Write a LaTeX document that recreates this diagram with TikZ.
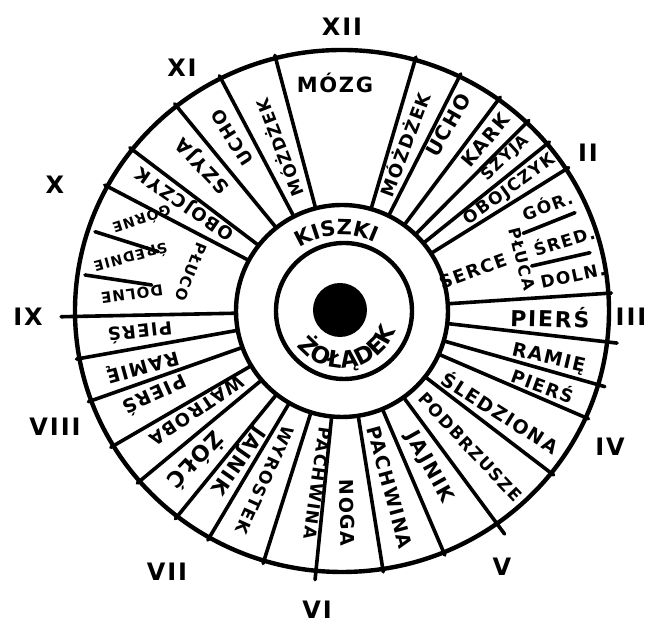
\documentclass[tikz,border=0pt]{standalone}
\usepackage{fontspec}
\setmainfont{DejaVu Sans}[LetterSpace=8]
\usetikzlibrary{decorations.text}
\newcommand\lblsize[1]{\bfseries\fontsize{#1}{#1}\selectfont}
\tikzset{
  rim/.style={line width=2.2pt},
  spoke/.style={line width=1.8pt, line cap=round},
  lbl/.style={inner sep=0pt},
  hour/.style={inner sep=0pt, font=\lblsize{12}},
}
\begin{document}
\begin{tikzpicture}[x=0.5pt,y=0.5pt]
\useasboundingbox (-342,-313) rectangle (308,311);
\draw[rim] (0,0) ellipse [x radius=267, y radius=261];
\draw[rim] (0,0) circle [radius=106];
\draw[rim] (2,0) circle [radius=68];
\fill (-2,1) circle [radius=27];
\draw[spoke] (74.1:106) -- (74.1:270 and 264);
\draw[spoke] (63.9:106) -- (63.9:270 and 264);
\draw[spoke] (54.1:106) -- (54.1:270 and 264);
\draw[spoke] (46.2:106) -- (46.2:270 and 264);
\draw[spoke] (39.8:106) -- (39.8:270 and 264);
\draw[spoke] (32.9:106) -- (32.9:270 and 264);
\draw[spoke] (3.9:106) -- (3.9:270 and 264);
\draw[spoke] (353.2:106) -- (353.2:277 and 271);
\draw[spoke] (343.6:106) -- (343.6:274 and 268);
\draw[spoke] (335.9:106) -- (335.9:270 and 264);
\draw[spoke] (321.6:106) -- (321.6:270 and 264);
\draw[spoke] (305.5:106) -- (305.5:280 and 274);
\draw[spoke] (292.4:106) -- (292.4:270 and 264);
\draw[spoke] (278.8:106) -- (278.8:270 and 264);
\draw[spoke] (264.4:106) -- (264.4:276 and 270);
\draw[spoke] (253.0:106) -- (253.0:270 and 264);
\draw[spoke] (240.2:106) -- (240.2:270 and 264);
\draw[spoke] (231.9:106) -- (231.9:270 and 264);
\draw[spoke] (220.7:106) -- (220.7:270 and 264);
\draw[spoke] (211.1:106) -- (211.1:270 and 264);
\draw[spoke] (200.1:106) -- (200.1:270 and 264);
\draw[spoke] (190.5:106) -- (190.5:270 and 264);
\draw[spoke] (181.2:106) -- (181.2:281 and 275);
\draw[spoke] (151.5:106) -- (151.5:270 and 264);
\draw[spoke] (141.8:106) -- (141.8:270 and 264);
\draw[spoke] (128.3:106) -- (128.3:270 and 264);
\draw[spoke] (117.0:106) -- (117.0:270 and 264);
\draw[spoke] (104.4:106) -- (104.4:270 and 264);
\draw[spoke] (181.3,77.7) -- (233,98.3);
\draw[spoke] (189.7,45) -- (248,58.3);
\draw[spoke] (-247,79.3) -- (-183.7,59.3);
\draw[spoke] (-257,36) -- (-190.3,26);
\node[lbl, font=\lblsize{10.5}] (mozg) at (-7,228) {MÓZG};
\node[lbl, font=\lblsize{9}, rotate=69.5] (mozdzekR) at (69.5:178) {MÓŻDŻEK};
\node[lbl, font=\lblsize{10}, rotate=60.3] (uchoR) at (60.3:214) {UCHO};
\node[lbl, font=\lblsize{9.5}, rotate=50] (kark) at (50:223) {KARK};
\node[lbl, font=\lblsize{8}, rotate=43] (szyjaR) at (43:224) {SZYJA};
\node[lbl, font=\lblsize{8.5}, rotate=35.8] (obojczykR) at (35.8:207) {OBOJCZYK};
\node[lbl, font=\lblsize{8.5}, rotate=20] (gorR) at (205,106) {GÓR.};
\node[lbl, font=\lblsize{8.5}, rotate=17] (sredR) at (222,71) {ŚRED.};
\node[lbl, font=\lblsize{8.5}, rotate=12] (dolnR) at (231,35) {DOLN.};
\node[lbl, font=\lblsize{9}, rotate=20] (serce) at (131,40) {SERCE};
\node[lbl, font=\lblsize{8}, rotate=-76] (plucaR) at (180,52) {PŁUCA};
\node[lbl, font=\lblsize{11}, rotate=-1.7] (piersR) at (-1.7:208) {PIERŚ};
\node[lbl, font=\lblsize{9.5}, rotate=-13] (ramieR) at (-13:212) {RAMIĘ};
\node[lbl, font=\lblsize{9}, rotate=-20.2] (piersRb) at (-20.2:214) {PIERŚ};
\node[lbl, font=\lblsize{9.5}, rotate=-32.4] (sledziona) at (-32.4:188) {ŚLEDZIONA};
\node[lbl, font=\lblsize{8.5}, rotate=-46.7] (podbrzusze) at (-46.7:187) {PODBRZUSZE};
\node[lbl, font=\lblsize{10}, rotate=-60.9] (jajnikR) at (-60.9:179) {JAJNIK};
\node[lbl, font=\lblsize{9.5}, rotate=-74.8] (pachwinaR) at (-74.8:183) {PACHWINA};
\node[lbl, font=\lblsize{9.5}, rotate=-88.6] (noga) at (-88.6:202) {NOGA};
\node[lbl, font=\lblsize{8.5}, rotate=-98] (pachwinaL) at (-98:174) {PACHWINA};
\node[lbl, font=\lblsize{8.5}, rotate=245.5] (wyrostek) at (245.5:186) {WYROSTEK};
\node[lbl, font=\lblsize{10}, rotate=235] (jajnikL) at (235:182) {JAJNIK};
\node[lbl, font=\lblsize{11}, rotate=226] (zolc) at (226:209) {ŻÓŁĆ};
\node[lbl, font=\lblsize{9}, rotate=214] (watroba) at (214:176) {WĄTROBA};
\node[lbl, font=\lblsize{9.5}, rotate=204.4] (piersL) at (204.4:205) {PIERŚ};
\node[lbl, font=\lblsize{9.5}, rotate=195.4] (ramieL) at (195.4:207) {RAMIĘ};
\node[lbl, font=\lblsize{9}, rotate=186.2] (piersLb) at (186.2:203) {PIERŚ};
\node[lbl, font=\lblsize{7.5}, rotate=188] (dolneL) at (-210,17) {DOLNE};
\node[lbl, font=\lblsize{7}, rotate=195] (sredL) at (-211,53) {ŚREDNIE};
\node[lbl, font=\lblsize{7}, rotate=198] (gorneL) at (-200,91) {GÓRNE};
\node[lbl, font=\lblsize{7.5}, rotate=248] (plucoL) at (-151,39) {PŁUCO};
\node[lbl, font=\lblsize{9}, rotate=145.5] (obojczykL) at (145.5:190) {OBOJCZYK};
\node[lbl, font=\lblsize{9.5}, rotate=133.6] (szyjaL) at (133.6:201) {SZYJA};
\node[lbl, font=\lblsize{9}, rotate=122.4] (uchoL) at (122.4:205) {UCHO};
\node[lbl, font=\lblsize{8.5}, rotate=111.1] (mozdzekL) at (111.1:175) {MÓŻDŻEK};
\path[decorate, decoration={text along path, text align=center, text={|\lblsize{10.5}|KISZKI}}] (141:76) arc [start angle=141, end angle=47, radius=76];
\path[decorate, decoration={text along path, text align=center, text={|\lblsize{11.5}|ŻOŁĄDEK}}] (205:57) arc [start angle=205, end angle=353, radius=57];
\node[hour] (h12) at (0,284) {XII};
\node[hour] (h11) at (-160,243) {XI};
\node[hour] (h10) at (-287,126) {X};
\node[hour] (h9) at (-314,-6) {IX};
\node[hour] (h8) at (-287,-116) {VIII};
\node[hour] (h7) at (-175,-261) {VII};
\node[hour] (h6) at (-25,-299) {VI};
\node[hour] (h5) at (160,-256) {V};
\node[hour] (h4) at (268,-136) {IV};
\node[hour] (h3) at (289,-6) {III};
\node[hour] (h2) at (246,158) {II};
\end{tikzpicture}
\end{document}
